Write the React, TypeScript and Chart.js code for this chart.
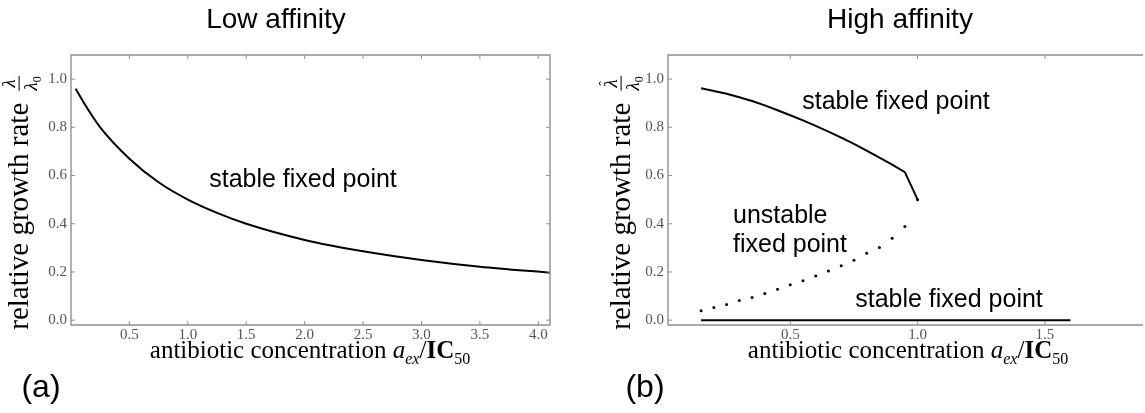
import React, { useEffect, useRef } from "react";
import { Chart, registerables } from "chart.js";

Chart.register(...registerables);

// ---- data ----
const lowX = [0.04, 0.1, 0.25, 0.5, 0.75, 1.0, 1.25, 1.5, 2.0, 2.5, 3.0, 3.5, 4.1];
const lowY = [0.96, 0.91, 0.8, 0.67, 0.572, 0.5, 0.445, 0.4, 0.333, 0.286, 0.25, 0.222, 0.197];

const highUpperX = [0.15, 0.2, 0.25, 0.3, 0.35, 0.4, 0.45, 0.5, 0.55, 0.6, 0.65, 0.7, 0.75, 0.8, 0.85, 0.9, 0.95, 1.0];
const highUpperY = [0.962, 0.951, 0.939, 0.925, 0.909, 0.891, 0.871, 0.85, 0.829, 0.806, 0.782, 0.757, 0.731, 0.703, 0.674, 0.645, 0.614, 0.5];

const unstableX = [0.15, 0.2, 0.25, 0.3, 0.35, 0.4, 0.45, 0.5, 0.55, 0.6, 0.65, 0.7, 0.75, 0.8, 0.85, 0.9, 0.95, 1.0];
const unstableY = [0.039, 0.053, 0.065, 0.082, 0.094, 0.111, 0.128, 0.147, 0.164, 0.183, 0.204, 0.226, 0.249, 0.278, 0.301, 0.34, 0.389, 0.5];

const lowerX = [0.15, 1.6];
const lowerY = [0.0, 0.0];

const yTicks = [0.0, 0.2, 0.4, 0.6, 0.8, 1.0];
const lowXTicks = [0.5, 1.0, 1.5, 2.0, 2.5, 3.0, 3.5, 4.0];
const highXTicks = [0.5, 1.0, 1.5];

const pts = (xs: number[], ys: number[]) => xs.map((x, i) => ({ x, y: ys[i] }));

const FRAME = "#8f8f8f";
const SERIF = "'Liberation Serif', 'DejaVu Serif', serif";
const SANS = "'Liberation Sans', Arial, sans-serif";

const framePlugin = {
  id: "frame",
  afterDatasetsDraw(chart: any, _args: any, opts: any) {
    const { ctx, chartArea: a, scales } = chart;
    ctx.save();
    ctx.strokeStyle = FRAME;
    ctx.lineWidth = 1.4;
    ctx.beginPath();
    if (opts.right) {
      ctx.rect(a.left, a.top, a.right - a.left, a.bottom - a.top);
    } else {
      ctx.moveTo(a.right + 2, a.top);
      ctx.lineTo(a.left, a.top);
      ctx.lineTo(a.left, a.bottom);
      ctx.lineTo(a.right + 2, a.bottom);
    }
    ctx.stroke();
    ctx.lineWidth = 1;
    const L = 4;
    ctx.beginPath();
    for (const t of scales.x.ticks) {
      const px = scales.x.getPixelForValue(t.value);
      ctx.moveTo(px, a.bottom);
      ctx.lineTo(px, a.bottom - L);
      ctx.moveTo(px, a.top);
      ctx.lineTo(px, a.top + L);
    }
    for (const t of scales.y.ticks) {
      const py = scales.y.getPixelForValue(t.value);
      ctx.moveTo(a.left, py);
      ctx.lineTo(a.left + L, py);
      if (opts.right) {
        ctx.moveTo(a.right, py);
        ctx.lineTo(a.right - L, py);
      }
    }
    ctx.stroke();
    ctx.restore();
  },
};

function makeConfig(
  datasets: any[],
  xMin: number,
  xMax: number,
  xTicks: number[],
  yAxisWidth: number,
  padRight: number,
  rightFrame: boolean
): any {
  return {
    type: "scatter",
    data: { datasets },
    plugins: [framePlugin],
    options: {
      animation: false,
      responsive: false,
      devicePixelRatio: 1,
      layout: { padding: { top: 55, right: padRight, left: 0, bottom: 0 } },
      plugins: {
        legend: { display: false },
        tooltip: { enabled: false },
        frame: { right: rightFrame },
      },
      scales: {
        x: {
          type: "linear",
          min: xMin,
          max: xMax,
          grid: { display: false, drawTicks: false },
          border: { display: false },
          afterBuildTicks: (s: any) => {
            s.ticks = xTicks.map((v) => ({ value: v }));
          },
          afterFit: (s: any) => {
            s.height = 88;
          },
          ticks: {
            padding: 1,
            color: "#555",
            font: { family: SERIF, size: 15 },
            callback: (v: any) => Number(v).toFixed(1),
            maxRotation: 0,
          },
        },
        y: {
          type: "linear",
          min: -0.02,
          max: 1.1,
          grid: { display: false, drawTicks: false },
          border: { display: false },
          afterBuildTicks: (s: any) => {
            s.ticks = yTicks.map((v) => ({ value: v }));
          },
          afterFit: (s: any) => {
            s.width = yAxisWidth;
          },
          ticks: {
            padding: 4,
            color: "#555",
            font: { family: SERIF, size: 15 },
            callback: (v: any) => Number(v).toFixed(1),
          },
        },
      },
    },
  };
}

function ChartCanvas({ config, left, width }: { config: any; left: number; width: number }) {
  const ref = useRef<HTMLCanvasElement>(null);
  useEffect(() => {
    if (!ref.current) return;
    const c = new Chart(ref.current, config);
    return () => c.destroy();
  }, []);
  return (
    <canvas
      ref={ref}
      width={width}
      height={413}
      style={{ position: "absolute", left, top: 0, width, height: 413 }}
    />
  );
}

const lineDs = (data: any[]) => ({
  data,
  showLine: true,
  borderColor: "#000",
  borderWidth: 2,
  pointRadius: 0,
  tension: 0,
});

const lowConfig = makeConfig(
  [{ ...lineDs(pts(lowX, lowY)), cubicInterpolationMode: "monotone" }],
  0.0,
  4.1,
  lowXTicks,
  71,
  10,
  true
);

const highConfig = makeConfig(
  [
    lineDs(pts(highUpperX, highUpperY)),
    {
      data: pts(unstableX, unstableY),
      showLine: false,
      pointRadius: 1.5,
      pointBorderWidth: 0,
      backgroundColor: "#000",
      borderColor: "#000",
    },
    lineDs(pts(lowerX, lowerY)),
  ],
  0.02,
  1.877,
  highXTicks,
  88,
  0,
  false
);

function Txt({ x, y, size, family, children, rotate }: any) {
  return (
    <div
      style={{
        position: "absolute",
        left: x,
        top: y,
        transform: `translate(-50%, -50%)${rotate ? " rotate(-90deg)" : ""}`,
        whiteSpace: "nowrap",
        fontSize: size,
        fontFamily: family,
        color: "#000",
        lineHeight: 1,
      }}
    >
      {children}
    </div>
  );
}

function Frac({ hat }: { hat?: boolean }) {
  return (
    <span
      style={{
        display: "inline-flex",
        flexDirection: "column",
        alignItems: "center",
        verticalAlign: "middle",
        fontSize: 19,
        marginLeft: 5,
        lineHeight: 1,
      }}
    >
      <span style={{ fontStyle: "italic", position: "relative" }}>
        {hat ? (
          <span
            style={{
              position: "absolute",
              left: "50%",
              top: -3,
              transform: "translateX(-50%)",
              fontStyle: "normal",
              fontSize: 14,
              lineHeight: 1,
            }}
          >
            ˆ
          </span>
        ) : null}
        λ
      </span>
      <span style={{ borderTop: "1px solid #000", alignSelf: "stretch", margin: "1px 0" }} />
      <span style={{ fontStyle: "italic" }}>
        λ<sub style={{ fontSize: 12, fontStyle: "normal" }}>0</sub>
      </span>
    </span>
  );
}

function XLabel() {
  return (
    <span>
      antibiotic concentration <i>a</i>
      <sub style={{ fontSize: 16, fontStyle: "italic" }}>ex</sub>/<b style={{ fontWeight: 600 }}>IC</b>
      <sub style={{ fontSize: 16 }}>50</sub>
    </span>
  );
}

export default function App() {
  return (
    <div
      style={{
        position: "absolute",
        left: 0,
        top: 0,
        width: 1145,
        height: 413,
        background: "#fff",
        overflow: "hidden",
      }}
    >
      <ChartCanvas config={lowConfig} left={0} width={560} />
      <ChartCanvas config={highConfig} left={580} width={565} />

      <Txt x={276} y={19} size={28} family={SANS}>Low affinity</Txt>
      <Txt x={900} y={19} size={28} family={SANS}>High affinity</Txt>

      <Txt x={303} y={178} size={25} family={SANS}>stable fixed point</Txt>
      <Txt x={896} y={100} size={25} family={SANS}>stable fixed point</Txt>
      <div
        style={{
          position: "absolute",
          left: 733,
          top: 200,
          fontSize: 25,
          fontFamily: SANS,
          lineHeight: "29px",
          whiteSpace: "nowrap",
        }}
      >
        unstable
        <br />
        fixed point
      </div>
      <Txt x={949} y={298} size={25} family={SANS}>stable fixed point</Txt>

      <Txt x={310} y={352} size={25} family={SERIF}>
        <XLabel />
      </Txt>
      <Txt x={908} y={352} size={25} family={SERIF}>
        <XLabel />
      </Txt>

      <Txt x={21} y={203} size={29} family={SERIF} rotate>
        relative growth rate <Frac />
      </Txt>
      <Txt x={623} y={203} size={29} family={SERIF} rotate>
        relative growth rate <Frac hat />
      </Txt>

      <Txt x={41} y={386} size={32} family={SANS}>(a)</Txt>
      <Txt x={645} y={386} size={32} family={SANS}>(b)</Txt>
    </div>
  );
}
